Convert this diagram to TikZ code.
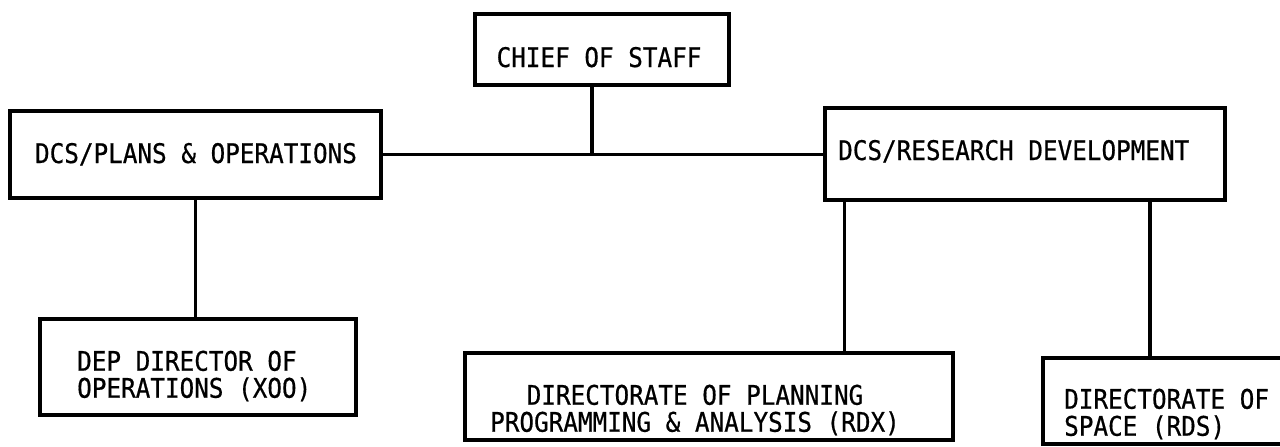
\documentclass[tikz,border=0pt]{standalone}
\usepackage{fontspec}
\setmonofont[FakeStretch=0.9, FakeBold=0.6]{DejaVu Sans Mono}
\usepackage{tikz}
\usetikzlibrary{positioning}

\tikzset{
    box/.style={draw, rectangle, line width=3.5pt, inner sep=0pt},
    txt/.style={font=\ttfamily\fontsize{27}{27}\selectfont, inner sep=0pt},
    link/.style={line width=3.5pt}
}

\begin{document}
\begin{tikzpicture}[x=1pt, y=-1pt]
    \useasboundingbox[fill=white] (0,0) rectangle (1280,447);

    % Draw the boxes of the chart
    \node[box, minimum width=254pt, minimum height=71pt] (Chief) at (602,49.5) {};
    \node[box, minimum width=371pt, minimum height=87pt] (Plans) at (195.5,154.5) {};
    \node[box, minimum width=400pt, minimum height=92pt] (Research) at (1025,154) {};
    \node[box, minimum width=316pt, minimum height=96pt] (DepDir) at (198,367) {};
    \node[box, minimum width=488pt, minimum height=87pt] (RDX) at (709,396.5) {};
    \node[box, minimum width=247pt, minimum height=86pt] (RDS) at (1166.5,401) {};

    % Texts of the boxes
    \node[txt, anchor=base] (ChiefText) at (599,67) {CHIEF OF STAFF};
    \node[txt, anchor=base] (PlansText) at (196,163) {DCS/PLANS \& OPERATIONS};
    \node[txt, anchor=base west] (ResearchText) at (838,160) {DCS/RESEARCH DEVELOPMENT};
    \node[txt, anchor=west, align=left] (DepDirText) at (77,376) {DEP DIRECTOR OF\\OPERATIONS (XOO)};
    \node[txt, align=center] (RDXText) at (695,410) {DIRECTORATE OF PLANNING\\PROGRAMMING \& ANALYSIS (RDX)};
    \node[txt, anchor=west, align=left] (RDSText) at (1064,414) {DIRECTORATE OF\\SPACE (RDS)};

    % Define coordinates for the connector ends
    \coordinate (C1) at ([xshift=-10pt]Chief.south);
    \coordinate (C2) at ([xshift=21pt]Research.south west);
    \coordinate (C3) at ([xshift=-77pt]Research.south east);

    % Connect the boxes
    \draw[link] (Plans.east) -- (Plans.east -| Research.west);
    \draw[link] (C1) -- (C1 |- Plans.east);
    \draw[link] (Plans.south) -- (Plans.south |- DepDir.north);
    \draw[link] (C2) -- (C2 |- RDX.north);
    \draw[link] (C3) -- (C3 |- RDS.north);
\end{tikzpicture}
\end{document}
